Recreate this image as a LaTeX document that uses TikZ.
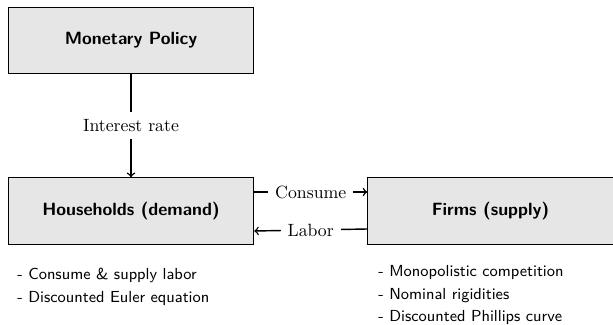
\documentclass[tikz,border=0pt]{standalone}
\usepackage{tikz}
\usetikzlibrary{arrows, positioning, calc}
\definecolor{boxgray}{RGB}{230,230,230}

\begin{document}
\begin{tikzpicture}[x=0.0198cm, y=-0.0198cm,
    block/.style={draw, semithick, fill=boxgray, minimum width=4.86cm, minimum height=1.32cm, font=\sffamily\bfseries},
    flowlabel/.style={fill=white, inner sep=4pt},
    flow/.style={->, thick},
    notes/.style={font=\sffamily\fontsize{9}{12.8}\selectfont, align=left, anchor=north west, inner sep=0pt}]
    \useasboundingbox (0,0) rectangle (613,325);

    % Blocks
    \node[block] (policy) at (131,40.5) {Monetary Policy};
    \node[block] (house) at (131,211) {Households (demand)};
    \node[block] (firms) at (490.5,211) {Firms (supply)};

    % Flows
    \draw[flow] (policy.south) -- node[flowlabel] {Interest rate} (house.north);
    \draw[flow] ($(house.east)+(0,-19)$) -- node[flowlabel] {Consume} ($(firms.west)+(0,-19)$);
    \draw[flow] ($(firms.west)+(0,18)$) -- node[flowlabel] {Labor} ($(house.east)+(0,20)$);

    % Notes
    \node[notes] (housenotes) at (17,268) {- Consume \& supply labor\\- Discounted Euler equation};
    \node[notes] (firmnotes) at (378,265) {- Monopolistic competition\\- Nominal rigidities\\- Discounted Phillips curve};
\end{tikzpicture}
\end{document}
